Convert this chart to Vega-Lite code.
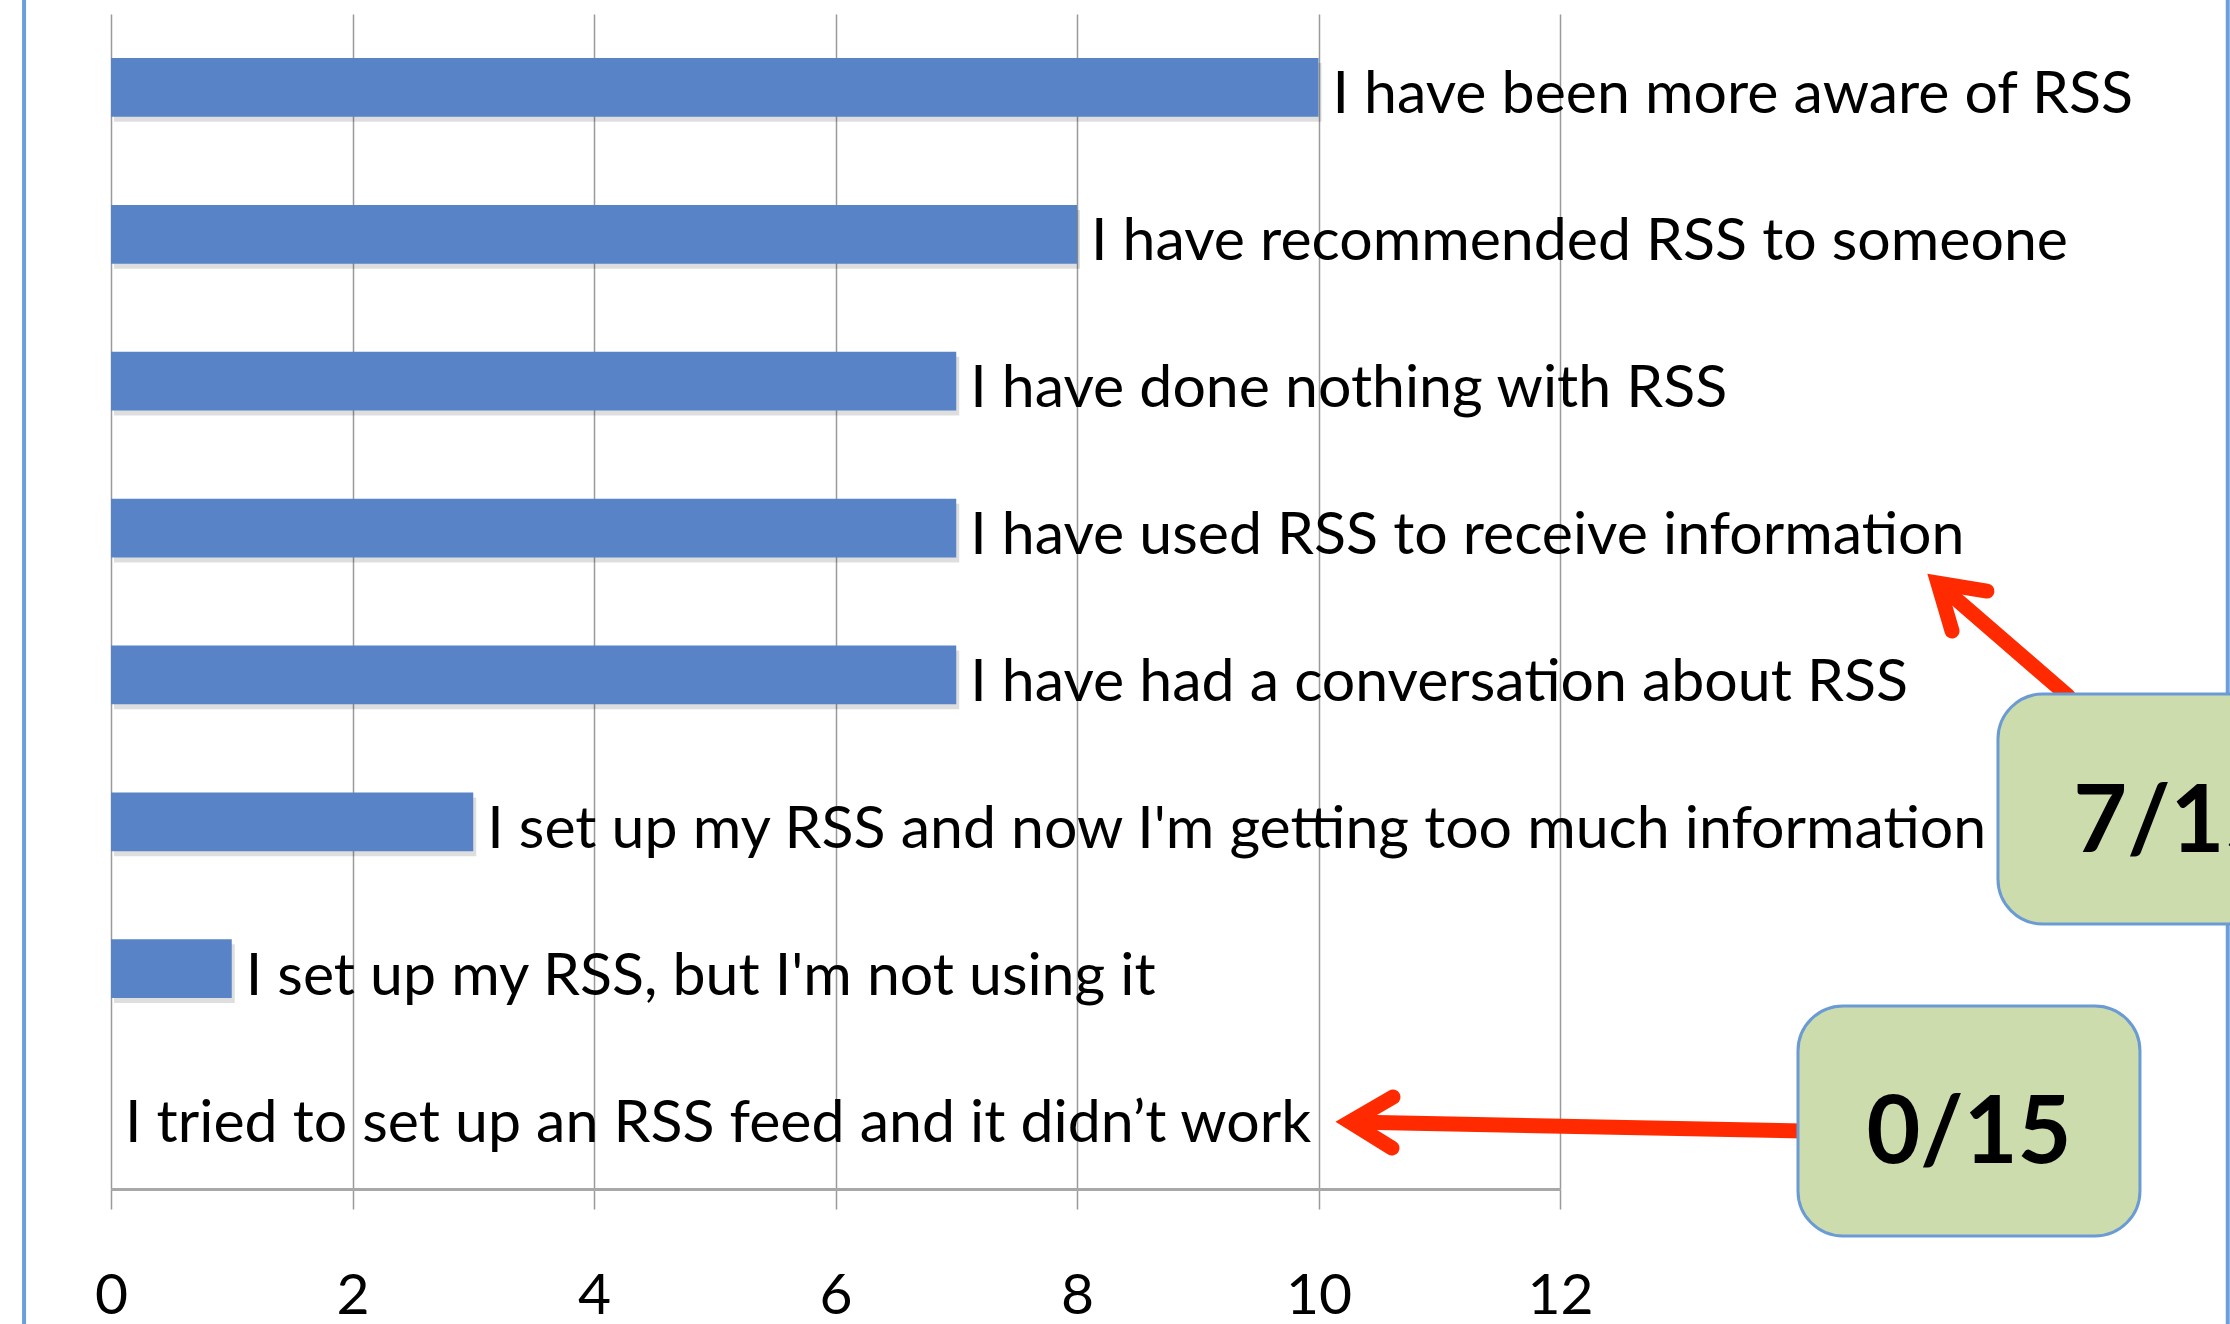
{
  "$schema": "https://vega.github.io/schema/vega-lite/v6.json",
  "width": 1449,
  "height": 1175,
  "autosize": {"type": "none"},
  "padding": {"left": 111, "top": 14, "right": 670, "bottom": 135},
  "background": "white",
  "config": {"view": {"stroke": null}},
  "datasets": {
    "answers": [
      {"statement": "I have been more aware of RSS", "count": 10},
      {"statement": "I have recommended RSS to someone", "count": 8},
      {"statement": "I have done nothing with RSS", "count": 7},
      {"statement": "I have used RSS to receive information", "count": 7},
      {"statement": "I have had a conversation about RSS", "count": 7},
      {"statement": "I set up my RSS and now I'm getting too much information", "count": 3},
      {"statement": "I set up my RSS, but I'm not using it", "count": 1},
      {"statement": "I tried to set up an RSS feed and it didn’t work", "count": 0}
    ],
    "borders": [
      {"x": -0.72, "y": -0.2, "y2": 9.2, "w": "left"},
      {"x": 17.53, "y": -0.2, "y2": 9.2, "w": "right"}
    ],
    "boxes": [
      {"label": "0/15", "x": 13.971, "x2": 16.803, "y": 6.754, "y2": 8.32, "tx": 15.387, "ty": 7.823},
      {"label": "7/15", "x": 15.627, "x2": 18.46, "y": 4.63, "y2": 6.196, "tx": 17.1, "ty": 5.706}
    ],
    "arrows": [
      {"seg": "a1 shaft", "k": 0, "x": 14.02, "y": 7.605},
      {"seg": "a1 shaft", "k": 1, "x": 10.277, "y": 7.544},
      {"seg": "a1 head", "k": 0, "x": 10.617, "y": 7.374},
      {"seg": "a1 head", "k": 1, "x": 10.261, "y": 7.544},
      {"seg": "a1 head", "k": 2, "x": 10.609, "y": 7.721},
      {"seg": "a2 shaft", "k": 0, "x": 16.207, "y": 4.643},
      {"seg": "a2 shaft", "k": 1, "x": 15.147, "y": 3.888},
      {"seg": "a2 head", "k": 0, "x": 15.536, "y": 3.929},
      {"seg": "a2 head", "k": 1, "x": 15.13, "y": 3.874},
      {"seg": "a2 head", "k": 2, "x": 15.247, "y": 4.201}
    ]
  },
  "layer": [
    {
      "data": {"name": "answers"},
      "encoding": {
        "y": {
          "field": "statement",
          "type": "nominal",
          "sort": null,
          "axis": null,
          "scale": {"paddingInner": 0.6, "paddingOuter": 0.3}
        }
      },
      "layer": [
        {
          "mark": {"type": "bar", "color": "#000000", "opacity": 0.13, "xOffset": 3, "yOffset": 5},
          "encoding": {
            "x": {
              "field": "count",
              "type": "quantitative",
              "scale": {"domain": [0, 12], "nice": false},
              "axis": {
                "values": [0, 2, 4, 6, 8, 10, 12],
                "format": "d",
                "title": null,
                "grid": true,
                "gridColor": "#9a9a9a",
                "gridWidth": 1.5,
                "gridOpacity": 1,
                "domainColor": "#a8a8a8",
                "domainWidth": 3,
                "tickColor": "#9a9a9a",
                "tickWidth": 1.5,
                "tickSize": 20,
                "labelFont": "Lato",
                "labelFontSize": 57,
                "labelColor": "#000000",
                "labelBaseline": "alphabetic",
                "labelPadding": 104,
                "labelFlush": false,
                "labelOverlap": false
              }
            }
          }
        },
        {
          "mark": {"type": "bar", "color": "#5883c7"},
          "encoding": {"x": {"field": "count", "type": "quantitative"}}
        },
        {
          "mark": {"type": "text", "align": "left", "baseline": "alphabetic", "dx": 14, "dy": 26, "font": "Lato", "fontSize": 59, "color": "#000000"},
          "encoding": {
            "x": {"field": "count", "type": "quantitative"},
            "text": {"field": "statement"}
          }
        }
      ]
    },
    {
      "encoding": {
        "y": {"type": "quantitative", "scale": {"domain": [0, 8], "reverse": true, "nice": false, "zero": false}, "axis": null}
      },
      "layer": [
        {
          "data": {"name": "borders"},
          "mark": {"type": "rule", "color": "#6a9fdc", "strokeWidth": 4},
          "encoding": {
            "x": {"field": "x", "type": "quantitative"},
            "y": {"field": "y", "type": "quantitative"},
            "y2": {"field": "y2"}
          }
        },
        {
          "data": {"name": "arrows"},
          "mark": {"type": "line", "color": "#ff2a00", "strokeWidth": 15, "strokeCap": "round", "strokeJoin": "miter"},
          "encoding": {
            "x": {"field": "x", "type": "quantitative"},
            "y": {"field": "y", "type": "quantitative"},
            "detail": {"field": "seg"},
            "order": {"field": "k"}
          }
        },
        {
          "data": {"name": "boxes"},
          "mark": {"type": "rect", "cornerRadius": 45, "color": "#000000", "opacity": 0.15, "xOffset": 3, "yOffset": 6},
          "encoding": {
            "x": {"field": "x", "type": "quantitative"},
            "x2": {"field": "x2"},
            "y": {"field": "y", "type": "quantitative"},
            "y2": {"field": "y2"}
          }
        },
        {
          "data": {"name": "boxes"},
          "mark": {"type": "rect", "cornerRadius": 45, "fill": "#cddcac", "stroke": "#6b9bd4", "strokeWidth": 3, "opacity": 1},
          "encoding": {
            "x": {"field": "x", "type": "quantitative"},
            "x2": {"field": "x2"},
            "y": {"field": "y", "type": "quantitative"},
            "y2": {"field": "y2"}
          }
        },
        {
          "data": {"name": "boxes"},
          "mark": {"type": "text", "align": "center", "baseline": "alphabetic", "font": "Lato", "fontWeight": "bold", "fontSize": 93, "color": "#000000"},
          "encoding": {
            "x": {"field": "tx", "type": "quantitative"},
            "y": {"field": "ty", "type": "quantitative"},
            "text": {"field": "label"}
          }
        }
      ]
    }
  ],
  "resolve": {"scale": {"y": "independent"}}
}
